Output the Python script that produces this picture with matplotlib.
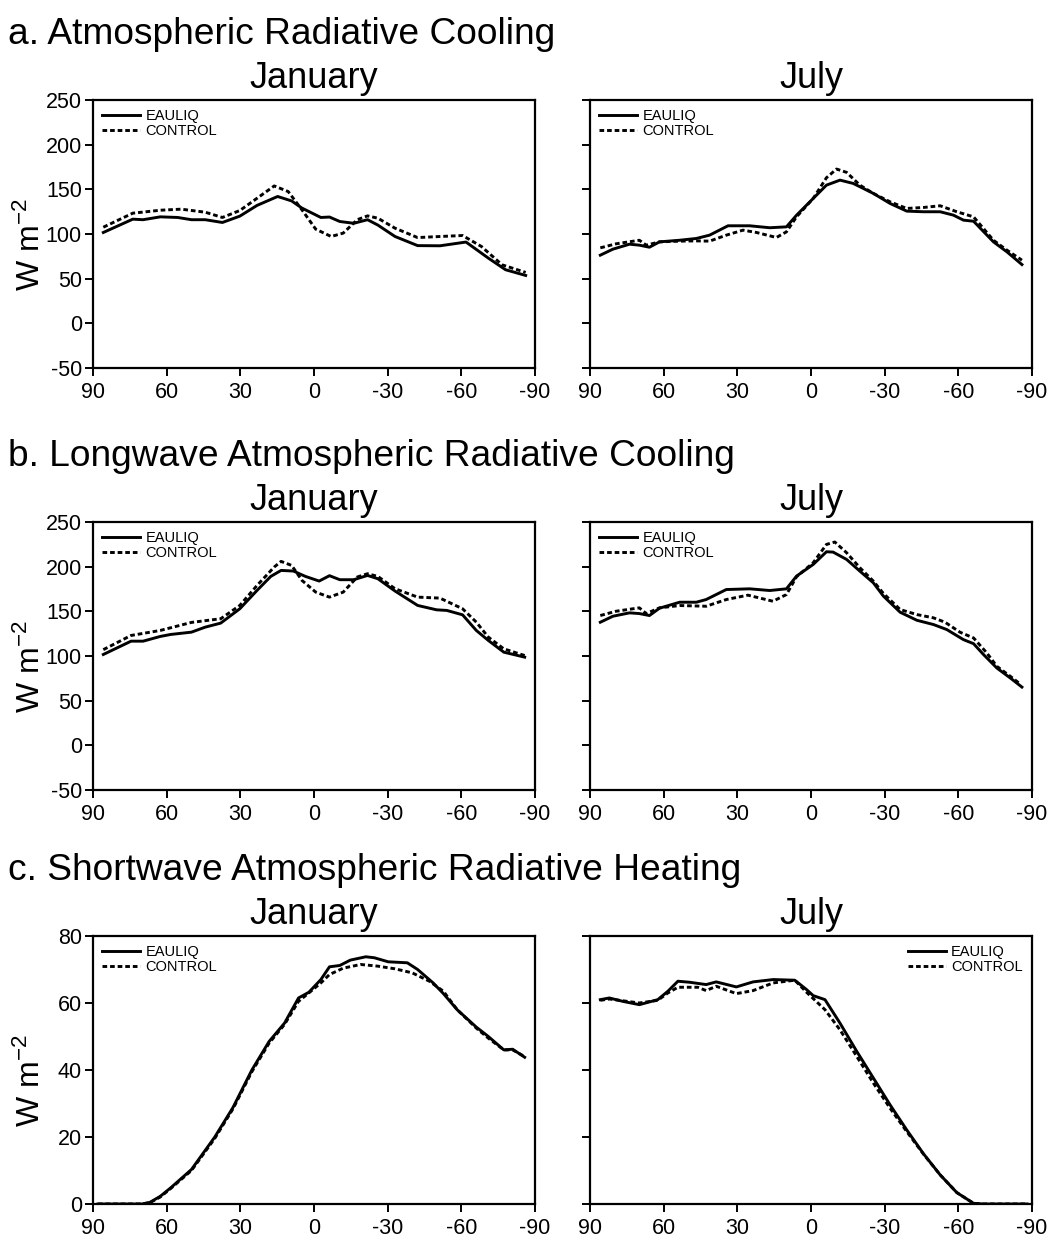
import matplotlib
matplotlib.use("Agg")
import matplotlib.pyplot as plt

plt.rcParams['font.family'] = ['Liberation Sans', 'DejaVu Sans']
plt.rcParams['axes.unicode_minus'] = False
plt.rcParams['mathtext.default'] = 'regular'

MONTHS = ["January", "July"]
SERIES = ["EAULIQ", "CONTROL"]
LAT_TICKS = [90, 60, 30, 0, -30, -60, -90]
SECTION_TITLES = ["a. Atmospheric Radiative Cooling",
                  "b. Longwave Atmospheric Radiative Cooling",
                  "c. Shortwave Atmospheric Radiative Heating"]

# ---- a. total atmospheric radiative cooling (W m-2) ----
a_jan_eauliq_lat = [85.8, 73.8, 69.6, 62.6, 55.5, 49.9, 44.3, 37.3, 30.2, 23.2, 14.8, 9.1, 4.9, -2.8,
                    -6.3, -10.5, -16.2, -21.8, -26.0, -33.0, -42.2, -51.3, -61.9, -71.0, -78.0, -86.2]
a_jan_eauliq = [101.7, 116.6, 116, 119.2, 118.5, 116, 116, 112.9, 120, 132, 142, 137, 129, 118.5,
                119, 114, 112, 116, 110, 97.2, 87, 86.8, 91, 73, 60, 53.6]
a_jan_control_lat = [85.8, 73.8, 62.6, 54.1, 44.3, 37.3, 30.2, 23.2, 16.2, 10.5, 4.9, -0.7, -7.0,
                     -11.9, -17.6, -21.8, -26.0, -33.0, -42.2, -51.3, -60.5, -68.2, -76.6, -86.2]
a_jan_control = [107.6, 123.3, 126.6, 127.8, 124.4, 118.5, 126.3, 140, 153.8, 147.5, 127, 105.4, 97.2,
                 101, 116, 120.3, 117.7, 106.5, 96, 97.2, 98.3, 86, 65.5, 57]

a_jul_eauliq_lat = [85.8, 80.7, 73.9, 69.9, 65.8, 61.7, 53.5, 46.7, 41.3, 33.8, 25.0, 16.8, 10.0, 5.9,
                    -0.9, -6.3, -11.8, -17.2, -25.4, -32.2, -39.0, -45.8, -52.6, -58.0, -62.1, -66.2,
                    -74.3, -79.8, -85.9]
a_jul_eauliq = [76.3, 83, 88.6, 87.5, 85.2, 91.2, 93, 95, 98.7, 109.2, 109.2, 107, 108, 121,
                139.8, 154.7, 160.3, 156.6, 145.4, 134.2, 125.6, 124.9, 124.9, 121.1, 115.5, 114.3,
                91.2, 80, 65.8]
a_jul_control_lat = [85.8, 79.4, 69.9, 67.1, 61.7, 53.5, 46.7, 41.3, 34.5, 27.7, 22.2, 14.1, 10.0, 5.9,
                     -0.9, -6.3, -10.4, -14.5, -19.9, -25.4, -32.2, -39.0, -45.8, -52.6, -59.4, -66.2,
                     -74.3, -79.8, -85.9]
a_jul_control = [84.5, 89, 93, 87.5, 91.2, 92, 92.3, 92, 98.7, 104.3, 101.7, 96.1, 102.4, 119.2,
                 139.8, 163, 172.7, 169, 154.7, 145.4, 136, 128.6, 129.7, 131.6, 124.9, 119.2,
                 93, 81.9, 70.7]

# ---- b. longwave atmospheric radiative cooling (W m-2) ----
b_jan_eauliq_lat = [85.8, 74.5, 69.6, 62.6, 58.4, 49.9, 44.3, 38.0, 30.2, 23.2, 17.6, 13.4, 8.4, 3.5,
                    -2.1, -6.3, -10.5, -16.2, -21.8, -26.0, -33.0, -42.2, -49.9, -54.1, -60.5, -66.1,
                    -71.0, -77.3, -85.8]
b_jan_eauliq = [101.7, 116.6, 116.6, 121.9, 124.1, 126.7, 132.3, 136.8, 152.9, 173.4, 189.1, 195.8,
                195.1, 189.1, 183.9, 189.9, 185.4, 185.4, 190.2, 186.5, 172.7, 156.6, 151.7, 151,
                146.1, 128.6, 117.4, 104.3, 98.7]
b_jan_control_lat = [85.8, 74.5, 62.6, 49.9, 38.0, 30.2, 23.2, 16.2, 13.4, 9.1, 4.9, -0.7, -6.3, -11.9,
                     -17.6, -21.8, -26.0, -33.0, -42.2, -51.3, -60.5, -66.1, -71.0, -77.3, -85.8]
b_jan_control = [107.1, 123, 128.6, 137.6, 141.7, 156.6, 179, 199.6, 205.9, 201.4, 184.6, 171.5, 165.9,
                 171.5, 188.4, 192.1, 189.1, 175.3, 165.9, 164.8, 152.9, 137.9, 121.1, 108, 100.5]

b_jul_eauliq_lat = [85.8, 80.7, 73.9, 69.9, 65.8, 61.7, 53.5, 46.7, 42.7, 34.5, 25.0, 16.8, 10.0, 5.9,
                    -0.9, -6.3, -9.0, -14.5, -19.9, -25.4, -29.5, -36.3, -43.1, -49.9, -55.3, -62.1,
                    -66.2, -70.3, -75.7, -81.2, -85.9]
b_jul_eauliq = [137.8, 144.5, 148.3, 147.5, 145.3, 153.5, 160.2, 160.2, 163.2, 174.4, 175.2, 173.3,
                175.2, 189.4, 202.5, 216.7, 216.3, 208.1, 195, 181.9, 167, 149, 140, 135.2, 129.6,
                118.3, 113.8, 101.5, 86.5, 75.3, 65.2]
b_jul_control_lat = [85.8, 79.4, 69.9, 67.1, 61.7, 53.5, 42.7, 34.5, 25.7, 15.5, 10.0, 5.9, -0.9, -6.3,
                     -9.7, -14.5, -19.9, -25.4, -29.5, -36.3, -43.1, -49.9, -54.6, -60.7, -66.2, -71.6,
                     -75.7, -81.2, -85.2]
b_jul_control = [145.3, 150.1, 153.9, 147.5, 153.9, 156.5, 155.7, 163.2, 168.1, 161.3, 168.8, 188.7,
                 204.4, 224.9, 227.6, 215.6, 198.8, 183.8, 170, 152, 146.4, 142.7, 137.8, 126.6,
                 120.2, 103.4, 88.4, 77.2, 68.6]

# ---- c. shortwave atmospheric radiative heating (W m-2) ----
c_jan_eauliq_lat = [88, 80, 70, 66.8, 62.6, 58.4, 49.9, 40.4, 33.0, 25.3, 18.3, 12.0, 6.3, 2.1, -2.8,
                    -6.3, -10.5, -14.8, -21.1, -24.6, -30.2, -38.0, -42.2, -48.5, -52.7, -58.3, -66.1,
                    -71.0, -77.3, -80.9, -85.8]
c_jan_eauliq = [0, 0, 0, 0.5, 2.3, 4.8, 10.3, 20, 28.8, 40, 48.5, 54, 61.5, 63.2, 67,
                70.8, 71.2, 72.8, 73.8, 73.5, 72.3, 72, 70, 66, 62.8, 58, 52.8,
                50, 46, 46.2, 43.8]
c_jan_control_lat = [88, 80, 70, 66.8, 62.6, 58.4, 49.9, 40.4, 33.0, 25.3, 18.3, 12.0, 6.3, 2.1, -2.8,
                     -6.3, -11.9, -19.0, -26.0, -33.0, -40.0, -47.0, -52.7, -58.3, -66.1, -71.0,
                     -77.3, -80.9, -85.8]
c_jan_control = [0, 0, 0, 0.4, 2.1, 4.6, 10.0, 19.6, 28.4, 39.5, 48.0, 53.6, 60.5, 63.0, 66,
                 68.5, 70.4, 71.5, 71, 70.2, 69, 66.5, 63.5, 58, 52.5, 49.5,
                 46, 46, 44]

c_jul_eauliq_lat = [85.8, 82.1, 76.7, 69.9, 62.4, 58.3, 54.2, 49.5, 42.7, 38.6, 30.4, 23.6, 15.4, 6.6,
                    1.8, -0.9, -5.7, -11.8, -18.6, -25.4, -32.2, -39.0, -45.8, -52.6, -59.4, -66.2,
                    -70.2, -88]
c_jul_eauliq = [61, 61.5, 60.5, 59.5, 61, 63.5, 66.5, 66.2, 65.5, 66.3, 64.8, 66.3, 67, 66.8,
                64, 62.2, 61, 54, 45.6, 37.6, 29.6, 22.1, 15, 8.7, 3.4, 0.2,
                0, 0]
c_jul_control_lat = [85.8, 82.1, 69.9, 62.4, 58.3, 54.2, 46.1, 42.7, 38.6, 30.4, 23.6, 15.4, 6.6, 1.8,
                     -5.7, -11.8, -18.6, -25.4, -32.2, -39.0, -45.8, -52.6, -59.4, -66.2, -70.2, -88]
c_jul_control = [60.8, 61.2, 60, 60.8, 63, 64.7, 64.7, 63.7, 65, 62.8, 63.7, 66, 66.8, 63.2,
                 58, 52, 44.1, 36.1, 28.6, 21.6, 14.9, 8.7, 3.4, 0.2, 0, 0]

rows = [
    {"lim": (-50, 250), "ticks": [-50, 0, 50, 100, 150, 200, 250],
     "curves": [((a_jan_eauliq_lat, a_jan_eauliq), (a_jan_control_lat, a_jan_control)),
                ((a_jul_eauliq_lat, a_jul_eauliq), (a_jul_control_lat, a_jul_control))],
     "legend": ["upper left", "upper left"]},
    {"lim": (-50, 250), "ticks": [-50, 0, 50, 100, 150, 200, 250],
     "curves": [((b_jan_eauliq_lat, b_jan_eauliq), (b_jan_control_lat, b_jan_control)),
                ((b_jul_eauliq_lat, b_jul_eauliq), (b_jul_control_lat, b_jul_control))],
     "legend": ["upper left", "upper left"]},
    {"lim": (0, 80), "ticks": [0, 20, 40, 60, 80],
     "curves": [((c_jan_eauliq_lat, c_jan_eauliq), (c_jan_control_lat, c_jan_control)),
                ((c_jul_eauliq_lat, c_jul_eauliq), (c_jul_control_lat, c_jul_control))],
     "legend": ["upper left", "upper right"]},
]

W, H = 1049, 1237
fig = plt.figure(figsize=(W / 100, H / 100), dpi=100)

col_left = [93 / W, 590 / W]
ax_w = 442 / W
ax_h = 268 / H
row_top_px = [100, 522, 936]

for r, row in enumerate(rows):
    top = row_top_px[r]
    fig.text(8 / W, 1 - (top - 56) / H, SECTION_TITLES[r], fontsize=26.7,
             ha="left", va="baseline")
    for c in range(2):
        ax = fig.add_axes([col_left[c], 1 - (top + 268) / H, ax_w, ax_h])
        (lat_e, val_e), (lat_c, val_c) = row["curves"][c]
        ax.plot(lat_e, val_e, color="black", lw=2.1, ls="-", label=SERIES[0],
                solid_joinstyle="round")
        ax.plot(lat_c, val_c, color="black", lw=2.1, ls=(0, (1.6, 1.0)), label=SERIES[1])
        ax.set_xlim(90, -90)
        ax.set_ylim(*row["lim"])
        ax.set_xticks(LAT_TICKS)
        ax.set_xticklabels([str(t) for t in LAT_TICKS])
        ax.set_yticks(row["ticks"])
        ax.tick_params(axis="both", direction="out", length=6, width=1.4,
                       labelsize=15.5, pad=2)
        ax.tick_params(axis="x", pad=4)
        for s in ax.spines.values():
            s.set_linewidth(1.6)
        if c == 0:
            ax.set_ylabel(r"W m$^{-2}$", fontsize=23)
            ax.yaxis.set_label_coords(-0.105, 0.46)
        else:
            ax.set_yticklabels([])
        ax.set_title(MONTHS[c], fontsize=26, pad=9)
        ax.legend(loc=row["legend"][c], frameon=False, fontsize=10.5,
                  handlelength=2.6, handletextpad=0.35, labelspacing=0.05,
                  borderaxespad=0.35, borderpad=0.3)

fig.savefig("out.png", dpi=100)
